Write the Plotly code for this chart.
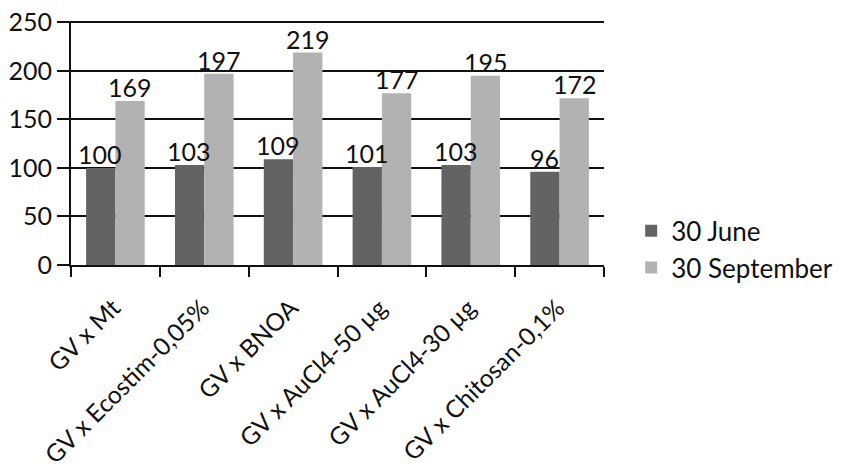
import plotly.graph_objects as go

categories = ["GV x Mt", "GV x Ecostim-0,05%", "GV x BNOA", "GV x AuCl4-50 µg",
              "GV x AuCl4-30 µg", "GV x Chitosan-0,1%"]
june = [100, 103, 109, 101, 103, 96]
september = [169, 197, 219, 177, 195, 172]
y_ticks = [0, 50, 100, 150, 200, 250]
series_names = ["30 June", "30 September"]
colors = ["#636363", "#b2b2b2"]

FONT = "Lato"
FS_NUM = 25
FS_TXT = 24.5
fig = go.Figure()
for name, vals, col in zip(series_names, [june, september], colors):
    fig.add_trace(go.Bar(
        x=categories, y=vals, name=name, marker=dict(color=col, line=dict(width=0)),
    ))

# value labels on top of every bar (drawn above all bars)
bar_px = 30
for shift, vals in zip([-bar_px / 2, bar_px / 2], [june, september]):
    for c, v in zip(categories, vals):
        fig.add_annotation(x=c, y=v, text=str(v), showarrow=False, xshift=shift,
                           yanchor="bottom", yshift=-3,
                           font=dict(family=FONT, size=FS_NUM, color="#111111"))

fig.update_layout(
    width=842, height=468,
    margin=dict(l=63, r=233, t=13, b=211),
    paper_bgcolor="white", plot_bgcolor="white",
    barmode="group", bargap=0.34, bargroupgap=0,
    font=dict(family=FONT, size=FS_NUM, color="#111111"),
    showlegend=True,
    legend=dict(x=1.051, y=0.064, xanchor="left", yanchor="middle",
                font=dict(family=FONT, size=26, color="#111111"),
                itemwidth=30, tracegroupgap=0, bgcolor="rgba(0,0,0,0)"),
)
fig.update_yaxes(range=[0, 251.5], tickvals=y_ticks,
                 showgrid=True, gridcolor="#111111", gridwidth=2,
                 showline=True, linecolor="#111111", linewidth=2,
                 ticks="outside", ticklen=12, tickwidth=2, tickcolor="#111111",
                 zeroline=False, automargin=False, ticklabeloverflow="allow",
                 tickfont=dict(family=FONT, size=FS_NUM))
fig.update_xaxes(showline=True, linecolor="#111111", linewidth=2,
                 ticks="outside", tickson="boundaries", ticklen=10, tickwidth=2,
                 tickcolor="#111111", tickangle=-45, automargin=False,
                 ticklabeloverflow="allow",
                 ticklabelstandoff=17, ticklabelshift=-2,
                 tickfont=dict(family=FONT, size=FS_TXT))

fig.write_html("out.html")
